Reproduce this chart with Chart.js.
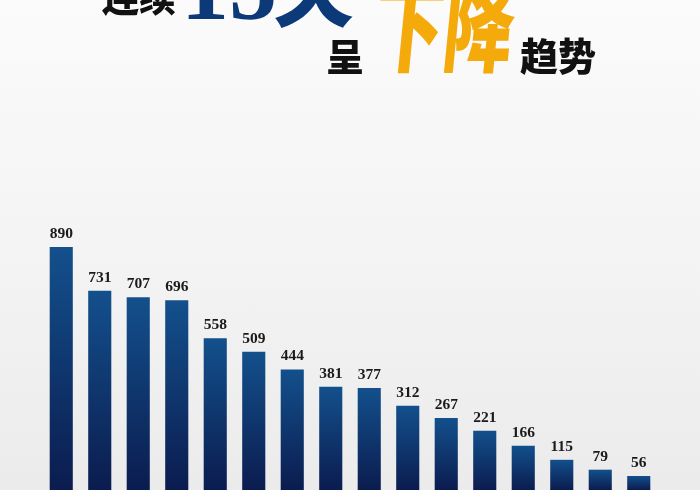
<!DOCTYPE html>
<html lang="zh">
<head>
    <meta charset="UTF-8">
    <title>连续15天呈下降趋势</title>
    <script src="https://cdn.jsdelivr.net/npm/chart.js@4"></script>
    <style>
        html, body { margin: 0; padding: 0; }
        body {
            width: 700px; height: 490px; overflow: hidden; position: relative;
            background: linear-gradient(180deg, #fbfbfb 0%, #f3f3f3 55%, #ebebeb 100%);
        }
        #wrap { position: absolute; left: 0; top: 0; width: 700px; height: 490px; }
        .t { position: absolute; line-height: 1; white-space: nowrap; z-index: 2; }
        .cjk { font-family: "Noto Sans CJK SC", sans-serif; font-weight: 900; color: #111; }
    </style>
</head>
<body>
    <div id="wrap"><canvas id="myChart" width="700" height="490"></canvas></div>

    <span class="t cjk" style="left:102px; top:-22px; font-size:37px;">连续</span>
    <span class="t" style="left:181px; top:-61px; font-size:96px; font-family:'Liberation Serif',serif; font-weight:bold; color:#0c3a78;">15</span>
    <span class="t cjk" style="left:278px; top:-54px; font-size:80px; color:#0c3a78; transform:skewX(-8deg);">天</span>
    <span class="t cjk" style="left:326px; top:36px; font-size:38px;">呈</span>
    <span class="t cjk" style="left:380px; top:-29px; font-size:100px; color:#f5aa0c; transform-origin:left top; transform:scaleX(0.7) skewX(-8deg);">下降</span>
    <span class="t cjk" style="left:520px; top:35px; font-size:38px;">趋势</span>

    <script>
        // values for the last 16 days
        const days = ['第1天', '第2天', '第3天', '第4天', '第5天', '第6天', '第7天', '第8天',
                      '第9天', '第10天', '第11天', '第12天', '第13天', '第14天', '第15天', '第16天'];
        const counts = [890, 731, 707, 696, 558, 509, 444, 381, 377, 312, 267, 221, 166, 115, 79, 56];

        // each bar gets its own top-to-bottom gradient
        function barGradient(context) {
            const chart = context.chart;
            const area = chart.chartArea;
            if (!area || context.raw === undefined) return '#0f3c75';
            const top = chart.scales.y.getPixelForValue(context.raw);
            const g = chart.ctx.createLinearGradient(0, top, 0, area.bottom);
            g.addColorStop(0, '#13508c');
            g.addColorStop(1, '#0b1c4f');
            return g;
        }

        const valueLabels = {
            id: 'valueLabels',
            afterDatasetsDraw(chart) {
                const ctx = chart.ctx;
                const meta = chart.getDatasetMeta(0);
                ctx.save();
                ctx.font = 'bold 15.5px "Liberation Serif", serif';
                ctx.fillStyle = '#1a1a1a';
                ctx.textAlign = 'center';
                ctx.textBaseline = 'alphabetic';
                meta.data.forEach((bar, i) => {
                    ctx.fillText(String(counts[i]), bar.x, bar.y - 9);
                });
                ctx.restore();
            }
        };

        const ctx = document.getElementById('myChart').getContext('2d');
        new Chart(ctx, {
            type: 'bar',
            data: {
                labels: days,
                datasets: [{
                    data: counts,
                    backgroundColor: barGradient,
                    borderWidth: 0,
                    barPercentage: 0.6,
                    categoryPercentage: 1
                }]
            },
            options: {
                responsive: false,
                animation: false,
                layout: { padding: { left: 42, right: 42, top: 0, bottom: 0 } },
                plugins: { legend: { display: false }, tooltip: { enabled: false } },
                scales: {
                    x: { display: false },
                    y: { display: false, min: 5, max: 1790 }
                }
            },
            plugins: [valueLabels]
        });
    </script>
</body>
</html>
